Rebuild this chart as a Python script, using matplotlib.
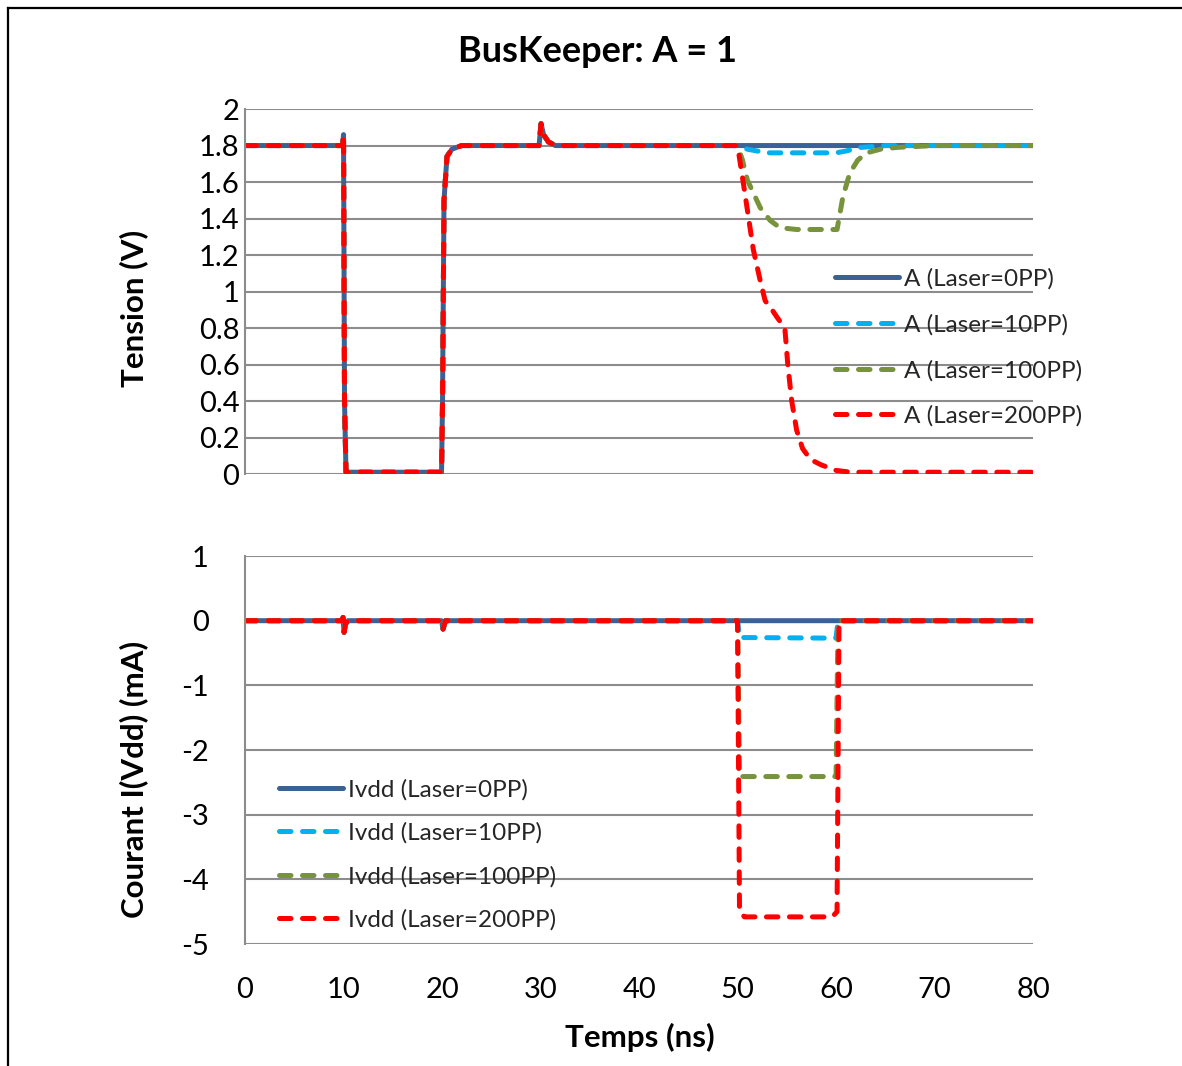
import matplotlib
matplotlib.use("Agg")
import matplotlib.pyplot as plt
from matplotlib.lines import Line2D

plt.rcParams['font.family'] = ['Lato', 'DejaVu Sans']
plt.rcParams['axes.unicode_minus'] = False

# ---- Data -------------------------------------------------------------
title = "BusKeeper: A = 1"
laser_labels = ["Laser=0PP", "Laser=10PP", "Laser=100PP", "Laser=200PP"]
x_ticks = [0, 10, 20, 30, 40, 50, 60, 70, 80]
v_ticks = [0, 0.2, 0.4, 0.6, 0.8, 1, 1.2, 1.4, 1.6, 1.8, 2]
v_tick_labels = ["0", "0.2", "0.4", "0.6", "0.8", "1", "1.2", "1.4", "1.6", "1.8", "2"]
i_ticks = [-5, -4, -3, -2, -1, 0, 1]

# Voltage on node A, common part (0 - 50 ns)
t_v_common = [0, 9.9, 10.0, 10.1, 10.25, 19.95, 20.05, 20.2, 20.5, 21.0, 22.0,
              29.85, 30.05, 30.3, 30.8, 31.5, 32.5, 50.0]
v_common = [1.8, 1.8, 1.86, 0.4, 0.01, 0.01, 0.4, 1.5, 1.74, 1.78, 1.8,
            1.8, 1.92, 1.86, 1.82, 1.8, 1.8, 1.8]

# Voltage after the laser shot (50 - 80 ns)
t_v_0 = [50.0, 80.0]
v_0 = [1.8, 1.8]
t_v_10 = [50.0, 51.0, 53.0, 60.0, 61.0, 62.5, 65.0, 80.0]
v_10 = [1.8, 1.78, 1.76, 1.76, 1.77, 1.79, 1.8, 1.8]
t_v_100 = [50.0, 50.5, 51.0, 52.3, 53.3, 54.3, 56.0, 60.1, 60.7, 61.4, 62.2, 63.1, 64.5, 66.2, 70.0, 80.0]
v_100 = [1.8, 1.72, 1.61, 1.46, 1.39, 1.35, 1.34, 1.34, 1.52, 1.65, 1.72, 1.76, 1.78, 1.79, 1.8, 1.8]
t_v_200 = [50.0, 50.6, 51.6, 52.3, 52.8, 53.5, 54.0, 54.8, 55.1, 55.5, 56.0, 56.6, 57.4, 58.5, 60.0, 61.5, 80.0]
v_200 = [1.8, 1.59, 1.23, 1.06, 0.95, 0.9, 0.86, 0.8, 0.6, 0.4, 0.24, 0.14, 0.08, 0.05, 0.02, 0.01, 0.01]

# Supply current I(Vdd), common part (0 - 50 ns)
t_i_common = [0, 9.85, 9.95, 10.05, 10.2, 10.45, 19.95, 20.1, 20.35, 50.0]
i_common = [0, 0, 0.05, -0.18, -0.05, 0, 0, -0.13, 0, 0]

# Supply current after the laser shot (50 - 80 ns)
t_i_0 = [50.0, 60.0, 80.0]
i_0 = [0, 0, 0]
t_i_10 = [50.0, 50.2, 60.0, 60.2, 80.0]
i_10 = [0, -0.26, -0.27, 0, 0]
t_i_100 = [50.0, 50.2, 60.0, 60.2, 80.0]
i_100 = [0, -2.41, -2.41, 0, 0]
t_i_200 = [50.0, 50.2, 50.7, 59.6, 60.1, 60.3, 80.0]
i_200 = [0, -4.5, -4.58, -4.58, -4.5, 0, 0]

# ---- Styling ----------------------------------------------------------
colors = ["#3A6295", "#00B0F0", "#77933C", "#FF0000"]
grid_col = "#8C8C8C"
lw = 3.6
dash = (2.3, 2.3)

W, H = 1182, 1066
fig = plt.figure(figsize=(W / 100, H / 100), dpi=100)

ax1 = fig.add_axes([0.2073, 0.5553, 0.6667, 0.3424])
ax2 = fig.add_axes([0.2073, 0.1144, 0.6667, 0.3640])


def style_axis(ax, yticks, ylim, pad):
    ax.set_xlim(0, 80)
    ax.set_ylim(*ylim)
    ax.set_yticks(yticks)
    ax.set_xticks(x_ticks)
    for s in ("top", "right", "bottom"):
        ax.spines[s].set_visible(False)
    ax.spines["left"].set_color(grid_col)
    ax.spines["left"].set_linewidth(1.5)
    ax.grid(axis="y", color=grid_col, linewidth=1.5)
    ax.set_axisbelow(True)
    ax.tick_params(axis="both", length=0, labelsize=21, colors="black")
    ax.tick_params(axis="y", pad=pad)


style_axis(ax1, v_ticks, (0, 2), 4)
ax1.set_yticklabels(v_tick_labels)
ax1.tick_params(axis="x", labelbottom=False)

style_axis(ax2, i_ticks, (-5, 1), 26)
ax2.tick_params(axis="x", pad=24)


def series(ax, t_common, y_common, t_tail, y_tail, color, label, dashed):
    t = list(t_common) + list(t_tail[1:])
    y = list(y_common) + list(y_tail[1:])
    kw = dict(color=color, linewidth=lw, label=label,
              solid_joinstyle="round", dash_joinstyle="round",
              solid_capstyle="round", dash_capstyle="round")
    ls = (0, dash) if dashed else "-"
    ln, = ax.plot(t, y, linestyle=ls, **kw)
    return ln


v_tails = [(t_v_0, v_0), (t_v_10, v_10), (t_v_100, v_100), (t_v_200, v_200)]
i_tails = [(t_i_0, i_0), (t_i_10, i_10), (t_i_100, i_100), (t_i_200, i_200)]

for k, (tt, yy) in enumerate(v_tails):
    series(ax1, t_v_common, v_common, tt, yy, colors[k],
           f"A ({laser_labels[k]})", k > 0)
for k, (tt, yy) in enumerate(i_tails):
    series(ax2, t_i_common, i_common, tt, yy, colors[k],
           f"Ivdd ({laser_labels[k]})", k > 0)

leg_kw = dict(frameon=False, fontsize=17.5, handlelength=2.65,
              handletextpad=0.2, borderaxespad=0,
              borderpad=0, labelcolor="#262626")
ax1.legend(loc="upper left", bbox_to_anchor=(835 / W, 1 - 268 / H),
           bbox_transform=fig.transFigure, labelspacing=1.0, **leg_kw)
ax2.legend(loc="upper left", bbox_to_anchor=(279 / W, 1 - 779 / H),
           bbox_transform=fig.transFigure, labelspacing=0.9, **leg_kw)

fig.text(597 / W, 1 - 51 / H, title, ha="center", va="center",
         fontsize=26, fontweight="bold")
fig.text(134 / W, 1 - 308 / H, "Tension (V)", rotation=90,
         ha="center", va="center", fontsize=22.5, fontweight="bold")
fig.text(134 / W, 1 - 779 / H, "Courant I(Vdd) (mA)", rotation=90,
         ha="center", va="center", fontsize=22.5, fontweight="bold")
fig.text(640 / W, 1 - 1037 / H, "Temps (ns)", ha="center",
         va="center", fontsize=22.5, fontweight="bold")

# Outer frame of the chart area (left and top edges fall inside the image)
fx = 7.5 / W
fy = 1 - 7.5 / H
fig.add_artist(Line2D([fx, fx], [0, fy], transform=fig.transFigure,
                      color="black", linewidth=1.6))
fig.add_artist(Line2D([fx, 1], [fy, fy], transform=fig.transFigure,
                      color="black", linewidth=1.6))

fig.savefig("out.png", dpi=100)
